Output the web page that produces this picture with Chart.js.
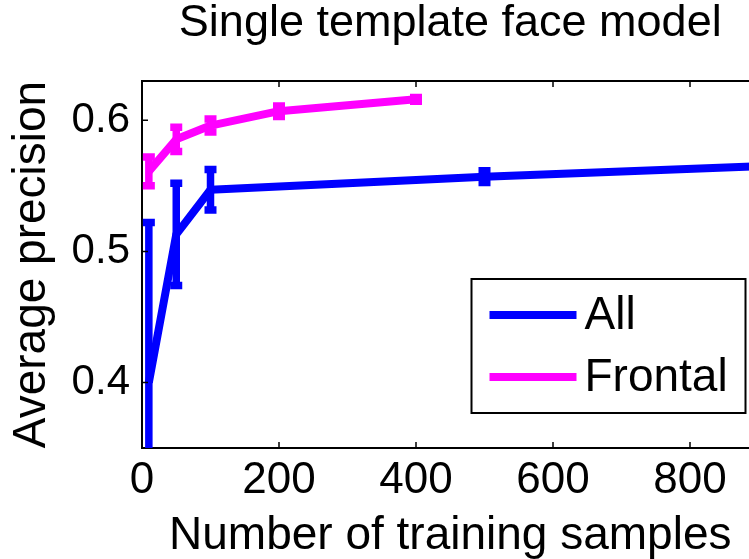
<!DOCTYPE html>
<html>
<head>
<meta charset="utf-8">
<script src="https://cdn.jsdelivr.net/npm/chart.js@4/dist/chart.umd.min.js"></script>
<style>
  html, body { margin: 0; padding: 0; background: #fff; }
  #wrap { width: 749px; height: 559px; overflow: hidden; position: relative; }
  canvas { display: block; }
</style>
</head>
<body>
<div id="wrap"><canvas id="faceChart" width="762" height="559"></canvas></div>
<script>
// data
const allSamples = [10, 50, 100, 500, 900];
const allAP = [0.400, 0.513, 0.547, 0.557, 0.565];
const allErr = [0.122, 0.039, 0.0155, 0.0045, 0.004];

const frontalSamples = [10, 50, 100, 200, 400];
const frontalAP = [0.561, 0.5855, 0.596, 0.607, 0.616];
const frontalErr = [0.011, 0.0093, 0.005, 0.004, 0.0015];

const xTicks = [0, 200, 400, 600, 800];
const yTicks = [0.4, 0.5, 0.6];

Chart.defaults.font.family = 'Liberation Sans, Arial, sans-serif';
Chart.defaults.color = '#000';

// matlab style error bars
const errorBars = {
  id: 'errorBars',
  afterDatasetDraw(chart, args) {
    const {ctx, chartArea: a, scales: {x, y}} = chart;
    const ds = chart.data.datasets[args.index];
    ctx.save();
    ctx.beginPath();
    ctx.rect(a.left, a.top, a.right - a.left, a.bottom - a.top);
    ctx.clip();
    ctx.strokeStyle = ds.borderColor;
    ds.data.forEach((p, i) => {
      const px = x.getPixelForValue(p.x);
      const top = y.getPixelForValue(p.y + ds.errors[i]);
      const bot = y.getPixelForValue(p.y - ds.errors[i]);
      ctx.lineWidth = 7.5;
      ctx.beginPath();
      ctx.moveTo(px, top); ctx.lineTo(px, bot);
      ctx.moveTo(px - 6, top); ctx.lineTo(px + 6, top);
      ctx.moveTo(px - 6, bot); ctx.lineTo(px + 6, bot);
      ctx.stroke();
    });
    ctx.restore();
  }
};

// top edge of the box and inward ticks
const frame = {
  id: 'frame',
  afterDraw(chart) {
    const {ctx, chartArea: a, scales: {x, y}} = chart;
    ctx.save();
    ctx.strokeStyle = '#000';
    ctx.lineWidth = 2;
    ctx.beginPath();
    ctx.moveTo(a.left - 1, a.top); ctx.lineTo(a.right, a.top);
    ctx.stroke();
    ctx.lineWidth = 1.5;
    ctx.beginPath();
    x.ticks.forEach(t => {
      const px = x.getPixelForValue(t.value);
      ctx.moveTo(px, a.bottom); ctx.lineTo(px, a.bottom - 6);
      ctx.moveTo(px, a.top); ctx.lineTo(px, a.top + 6);
    });
    y.ticks.forEach(t => {
      const py = y.getPixelForValue(t.value);
      ctx.moveTo(a.left, py); ctx.lineTo(a.left + 6, py);
    });
    ctx.stroke();
    ctx.restore();
  }
};

// boxed legend, bottom right
const boxLegend = {
  id: 'boxLegend',
  afterDraw(chart) {
    const {ctx, chartArea: a} = chart;
    const left = a.right - 287, top = a.bottom - 169;
    ctx.save();
    ctx.fillStyle = '#fff';
    ctx.strokeStyle = '#000';
    ctx.lineWidth = 2;
    ctx.fillRect(left, top, 274, 134);
    ctx.strokeRect(left, top, 274, 134);
    ctx.font = '46px Liberation Sans, Arial, sans-serif';
    ctx.textBaseline = 'middle';
    chart.data.datasets.forEach((ds, i) => {
      const ly = top + 36 + i * 62;
      ctx.strokeStyle = ds.borderColor;
      ctx.lineWidth = 8;
      ctx.beginPath();
      ctx.moveTo(left + 18, ly); ctx.lineTo(left + 105, ly);
      ctx.stroke();
      ctx.fillStyle = '#000';
      ctx.fillText(ds.label, left + 113, ly + 1);
    });
    ctx.restore();
  }
};

const ctx = document.getElementById('faceChart');
new Chart(ctx, {
  type: 'line',
  data: {
    datasets: [
      {
        label: 'All',
        data: allSamples.map((s, i) => ({x: s, y: allAP[i]})),
        errors: allErr,
        borderColor: '#0000ff',
        borderWidth: 8,
        pointRadius: 0,
        tension: 0,
        borderJoinStyle: 'round',
        clip: 0
      },
      {
        label: 'Frontal',
        data: frontalSamples.map((s, i) => ({x: s, y: frontalAP[i]})),
        errors: frontalErr,
        borderColor: '#ff00ff',
        borderWidth: 8,
        pointRadius: 0,
        tension: 0,
        borderJoinStyle: 'round',
        clip: 0
      }
    ]
  },
  options: {
    responsive: false,
    animation: false,
    layout: { padding: { left: 0, right: 3.5, top: 0, bottom: 0 } },
    plugins: {
      legend: { display: false },
      tooltip: { enabled: false },
      title: {
        display: true,
        text: 'Single template face model',
        fullSize: false,
        color: '#000',
        font: { size: 45, weight: 'normal', lineHeight: 1 },
        padding: { top: 1, bottom: 35 }
      }
    },
    scales: {
      x: {
        type: 'linear',
        min: 0,
        max: 900,
        afterBuildTicks: s => { s.ticks = xTicks.map(v => ({value: v})); },
        afterFit: s => { s.height = 111; },
        grid: { display: false, drawTicks: false },
        border: { display: true, color: '#000', width: 2 },
        ticks: { font: { size: 44 }, padding: 6, maxRotation: 0, callback: v => String(v) },
        title: {
          display: true,
          text: 'Number of training samples',
          font: { size: 46, lineHeight: 1 },
          padding: { top: 0, bottom: 0 }
        }
      },
      y: {
        type: 'linear',
        min: 0.35,
        max: 0.63,
        afterBuildTicks: s => { s.ticks = yTicks.map(v => ({value: v})); },
        afterFit: s => { s.width = 142; },
        grid: { display: false, drawTicks: false },
        border: { display: true, color: '#000', width: 2 },
        ticks: { font: { size: 42 }, padding: 12, callback: v => v.toFixed(1) },
        title: {
          display: true,
          text: 'Average precision',
          font: { size: 46 },
          padding: { top: 5, bottom: 0 }
        }
      }
    }
  },
  plugins: [errorBars, frame, boxLegend]
});
</script>
</body>
</html>
